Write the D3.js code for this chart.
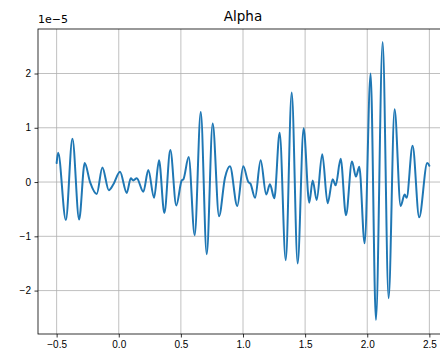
<!DOCTYPE html>
<html>
  <head>
    <meta charset="utf-8">
    <script src="https://d3js.org/d3.v7.min.js"></script>
    <style>
      html, body { margin: 0; padding: 0; background: #fff; overflow: hidden; }
      svg { display: block; font-family: "DejaVu Sans", sans-serif; }
      .grid line { stroke: #b0b0b0; stroke-width: 0.8px; }
      .axis .domain { display: none; }
      .axis .tick line { stroke: #000; stroke-width: 0.8px; }
      .axis .tick text { font-size: 10px; fill: #000; }
    </style>
  </head>
  <body>
    <svg width="440" height="358"></svg>
    <script>
      // Alpha signal (y in units of 1e-5)
      const xs = [-0.5, -0.488, -0.426, -0.373, -0.319, -0.274, -0.231, -0.177, -0.132, -0.08,
        -0.043, 0.01, 0.064, 0.097, 0.117, 0.145, 0.198, 0.238, 0.284, 0.324,
        0.367, 0.415, 0.463, 0.507, 0.52, 0.563, 0.611, 0.66, 0.708, 0.756,
        0.807, 0.855, 0.895, 0.954, 1.002, 1.043, 1.06, 1.097, 1.142, 1.187,
        1.217, 1.252, 1.295, 1.344, 1.392, 1.44, 1.488, 1.533, 1.561, 1.593,
        1.638, 1.681, 1.722, 1.746, 1.786, 1.829, 1.877, 1.909, 1.936, 1.979,
        2.027, 2.07, 2.124, 2.172, 2.22, 2.269, 2.301, 2.317, 2.365, 2.418,
        2.483, 2.5];
      const ys = [0.35, 0.54, -0.7, 0.8, -0.69, 0.35, 0.0, -0.22, 0.27, -0.15,
        -0.04, 0.19, -0.2, 0.07, 0.03, 0.07, -0.18, 0.22, -0.29, 0.4,
        -0.57, 0.59, -0.43, 0.03, 0.05, 0.46, -0.98, 1.29, -1.33, 1.08,
        -0.63, 0.08, 0.29, -0.44, 0.29, 0.0, -0.03, -0.29, 0.4, -0.23,
        -0.04, -0.3, 0.91, -1.44, 1.65, -1.5, 0.99, -0.38, 0.03, -0.33,
        0.51, -0.39, 0.05, -0.06, 0.43, -0.61, 0.38, 0.1, 0.28, -1.13,
        2.0, -2.54, 2.58, -2.14, 1.34, -0.44, -0.23, -0.29, 0.67, -0.65,
        0.35, 0.3];
      const xTicks = [-0.5, 0.0, 0.5, 1.0, 1.5, 2.0, 2.5];
      const yTicks = [-2, -1, 0, 1, 2];
      const title = "Alpha";
      const offsetLabel = "1e\u22125";

      const data = xs.map((x, i) => ({x: x, y: ys[i]}));

      const svg = d3.select("svg");
      const margin = {left: 38, top: 29, right: -8, bottom: 24};
      const width = +svg.attr("width");
      const height = +svg.attr("height");
      const innerWidth = width - margin.left - margin.right;
      const innerHeight = height - margin.top - margin.bottom;

      const xScale = d3.scaleLinear().domain([-0.65, 2.65]).range([0, innerWidth]);
      const yScale = d3.scaleLinear().domain([-2.8, 2.82]).range([innerHeight, 0]);

      const g = svg.append("g")
        .attr("transform", `translate(${margin.left},${margin.top})`);

      const fmt = d => d3.format(".1f")(d).replace("-", "\u2212");

      // grid
      g.append("g").attr("class", "grid")
        .selectAll("line").data(xTicks).join("line")
          .attr("x1", d => xScale(d)).attr("x2", d => xScale(d))
          .attr("y1", 0).attr("y2", innerHeight);
      g.append("g").attr("class", "grid")
        .selectAll("line").data(yTicks).join("line")
          .attr("x1", 0).attr("x2", innerWidth)
          .attr("y1", d => yScale(d)).attr("y2", d => yScale(d));

      // axes
      g.append("g").attr("class", "axis")
        .attr("transform", `translate(0,${innerHeight})`)
        .call(d3.axisBottom(xScale).tickValues(xTicks).tickFormat(fmt)
          .tickSize(3.5).tickPadding(3.5));
      g.append("g").attr("class", "axis")
        .call(d3.axisLeft(yScale).tickValues(yTicks)
          .tickFormat(d => String(d).replace("-", "\u2212"))
          .tickSize(3.5).tickPadding(3.5));

      // line
      const line = d3.line()
        .x(d => xScale(d.x))
        .y(d => yScale(d.y))
        .curve(d3.curveMonotoneX);
      g.append("path")
        .datum(data)
        .attr("fill", "none")
        .attr("stroke", "#1f77b4")
        .attr("stroke-width", 2)
        .attr("stroke-linejoin", "round")
        .attr("stroke-linecap", "round")
        .attr("d", line);

      // frame
      g.append("rect")
        .attr("width", innerWidth).attr("height", innerHeight)
        .attr("fill", "none").attr("stroke", "#000").attr("stroke-width", 0.8);

      svg.append("text")
        .attr("x", margin.left + innerWidth / 2).attr("y", 21)
        .attr("text-anchor", "middle")
        .attr("font-size", 13.5)
        .text(title);
      svg.append("text")
        .attr("x", margin.left).attr("y", 23)
        .attr("font-size", 11)
        .text(offsetLabel);
    </script>
  </body>
</html>
